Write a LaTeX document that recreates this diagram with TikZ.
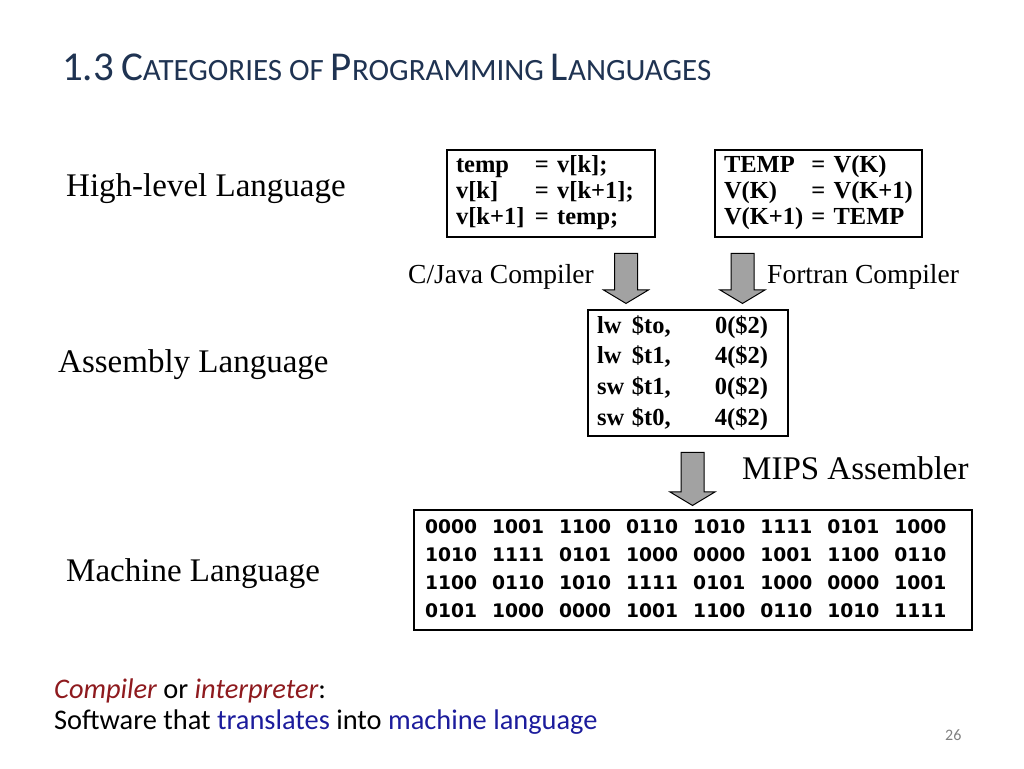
\documentclass[tikz,border=0pt]{standalone}
\usepackage{fontspec}
\setmainfont{Liberation Serif}
\newfontfamily\slidefont{Carlito}
\newfontfamily\bitfont{DejaVu Sans}
\usepackage{tikz}
\usetikzlibrary{shapes.arrows,positioning,calc}
\definecolor{titleblue}{HTML}{1F3352}
\definecolor{termred}{HTML}{8E1A1E}
\definecolor{termblue}{HTML}{1C1C9C}
\definecolor{arrowgray}{HTML}{A2A2A2}
\tikzset{
  lang/level/.style={anchor=base west, inner sep=0pt, font=\fontsize{33}{36}\selectfont},
  lang/tool/.style={anchor=base west, inner sep=0pt, font=\fontsize{27.5}{32}\selectfont},
  lang/codebox/.style={draw, line width=1.6pt, inner xsep=9pt, inner ysep=0pt, align=left},
  lang/code/.style={lang/codebox, font=\fontsize{24.5}{26}\selectfont\bfseries},
  lang/bitbox/.style={lang/codebox, inner xsep=11pt, font=\fontsize{18.7}{28}\selectfont\bitfont\bfseries},
  lang/blockarrow/.style={draw, line width=1pt, fill=arrowgray, shape=single arrow, rotate=-90,
    inner xsep=0pt, inner ysep=11pt, single arrow head extend=11pt, single arrow tip angle=118},
  lang/slide/.style={anchor=base west, inner sep=0pt, font=\fontsize{28.4}{32}\selectfont\slidefont}
}
\newcommand{\smallcap}[2]{{\fontsize{41}{44}\selectfont #1}{\fontsize{31}{34}\selectfont #2}}

\begin{document}
\begin{tikzpicture}[x=1pt, y=-1pt]
  \useasboundingbox (0,0) rectangle (1024,768);

  % title
  \node[anchor=base west, inner sep=0pt, text=titleblue, font=\fontsize{31}{34}\selectfont\slidefont] (title) at (62,80)
    {{\fontsize{41}{44}\selectfont 1.3} \smallcap{C}{ATEGORIES} \smallcap{}{OF} \smallcap{P}{ROGRAMMING} \smallcap{L}{ANGUAGES}};

  % levels
  \node[lang/level] (high) at (66,196) {High-level Language};
  \node[lang/level] (asm) at (58,372) {Assembly Language};
  \node[lang/level] (mach) at (66,581) {Machine Language};

  % source code
  \node[lang/code, text width=190pt, minimum height=87pt] (csrc) at (551,193.5) {%
    \begin{tabular}{@{}p{79pt}@{}l@{}}
      temp & = v[k];\\
      v[k] & = v[k+1];\\
      v[k+1] & = temp;
    \end{tabular}};
  \node[lang/code, text width=189pt, minimum height=87pt] (fsrc) at (818.5,193.5) {%
    \begin{tabular}{@{}l@{\ }l@{}}
      TEMP & = V(K)\\
      V(K) & = V(K+1)\\
      V(K+1) & = TEMP
    \end{tabular}};

  \node[lang/blockarrow, minimum height=50pt] (ccomp) at (626,275) {};
  \node[lang/blockarrow, minimum height=50pt] (fcomp) at (742.5,275) {};
  \node[lang/tool] (cjava) at (408,283) {C/Java Compiler};
  \node[lang/tool] (fortran) at (767,283) {Fortran Compiler};

  % assembly
  \node[lang/code, font=\fontsize{24.5}{30.7}\selectfont\bfseries, text width=182pt, minimum height=126pt] (mips) at (688,373) {%
    \begin{tabular}{@{}p{35pt}@{}p{83pt}@{}l@{}}
      lw & \$to, & 0(\$2)\\
      lw & \$t1, & 4(\$2)\\
      sw & \$t1, & 0(\$2)\\
      sw & \$t0, & 4(\$2)
    \end{tabular}};

  \node[lang/blockarrow, minimum height=53pt] (assem) at (692.5,475.5) {};
  \node[lang/tool, font=\fontsize{33}{36}\selectfont] (mipsasm) at (742,479) {MIPS Assembler};

  % machine code
  \node[lang/bitbox, text width=536pt, minimum height=120pt] (bits) at (693,570) {%
    \setlength{\tabcolsep}{7.5pt}%
    \begin{tabular}{@{}*{8}{l}@{}}
      0000 & 1001 & 1100 & 0110 & 1010 & 1111 & 0101 & 1000\\
      1010 & 1111 & 0101 & 1000 & 0000 & 1001 & 1100 & 0110\\
      1100 & 0110 & 1010 & 1111 & 0101 & 1000 & 0000 & 1001\\
      0101 & 1000 & 0000 & 1001 & 1100 & 0110 & 1010 & 1111
    \end{tabular}};

  % note
  \node[lang/slide] (note1) at (54,698) {\textcolor{termred}{\itshape Compiler} or \textcolor{termred}{\itshape interpreter}:};
  \node[lang/slide] (note2) at (54,729) {Software that \textcolor{termblue}{translates} into \textcolor{termblue}{machine language}};
  \node[anchor=base west, inner sep=0pt, text=black!50, font=\fontsize{16}{18}\selectfont\slidefont] (page) at (945,740) {26};
\end{tikzpicture}
\end{document}
